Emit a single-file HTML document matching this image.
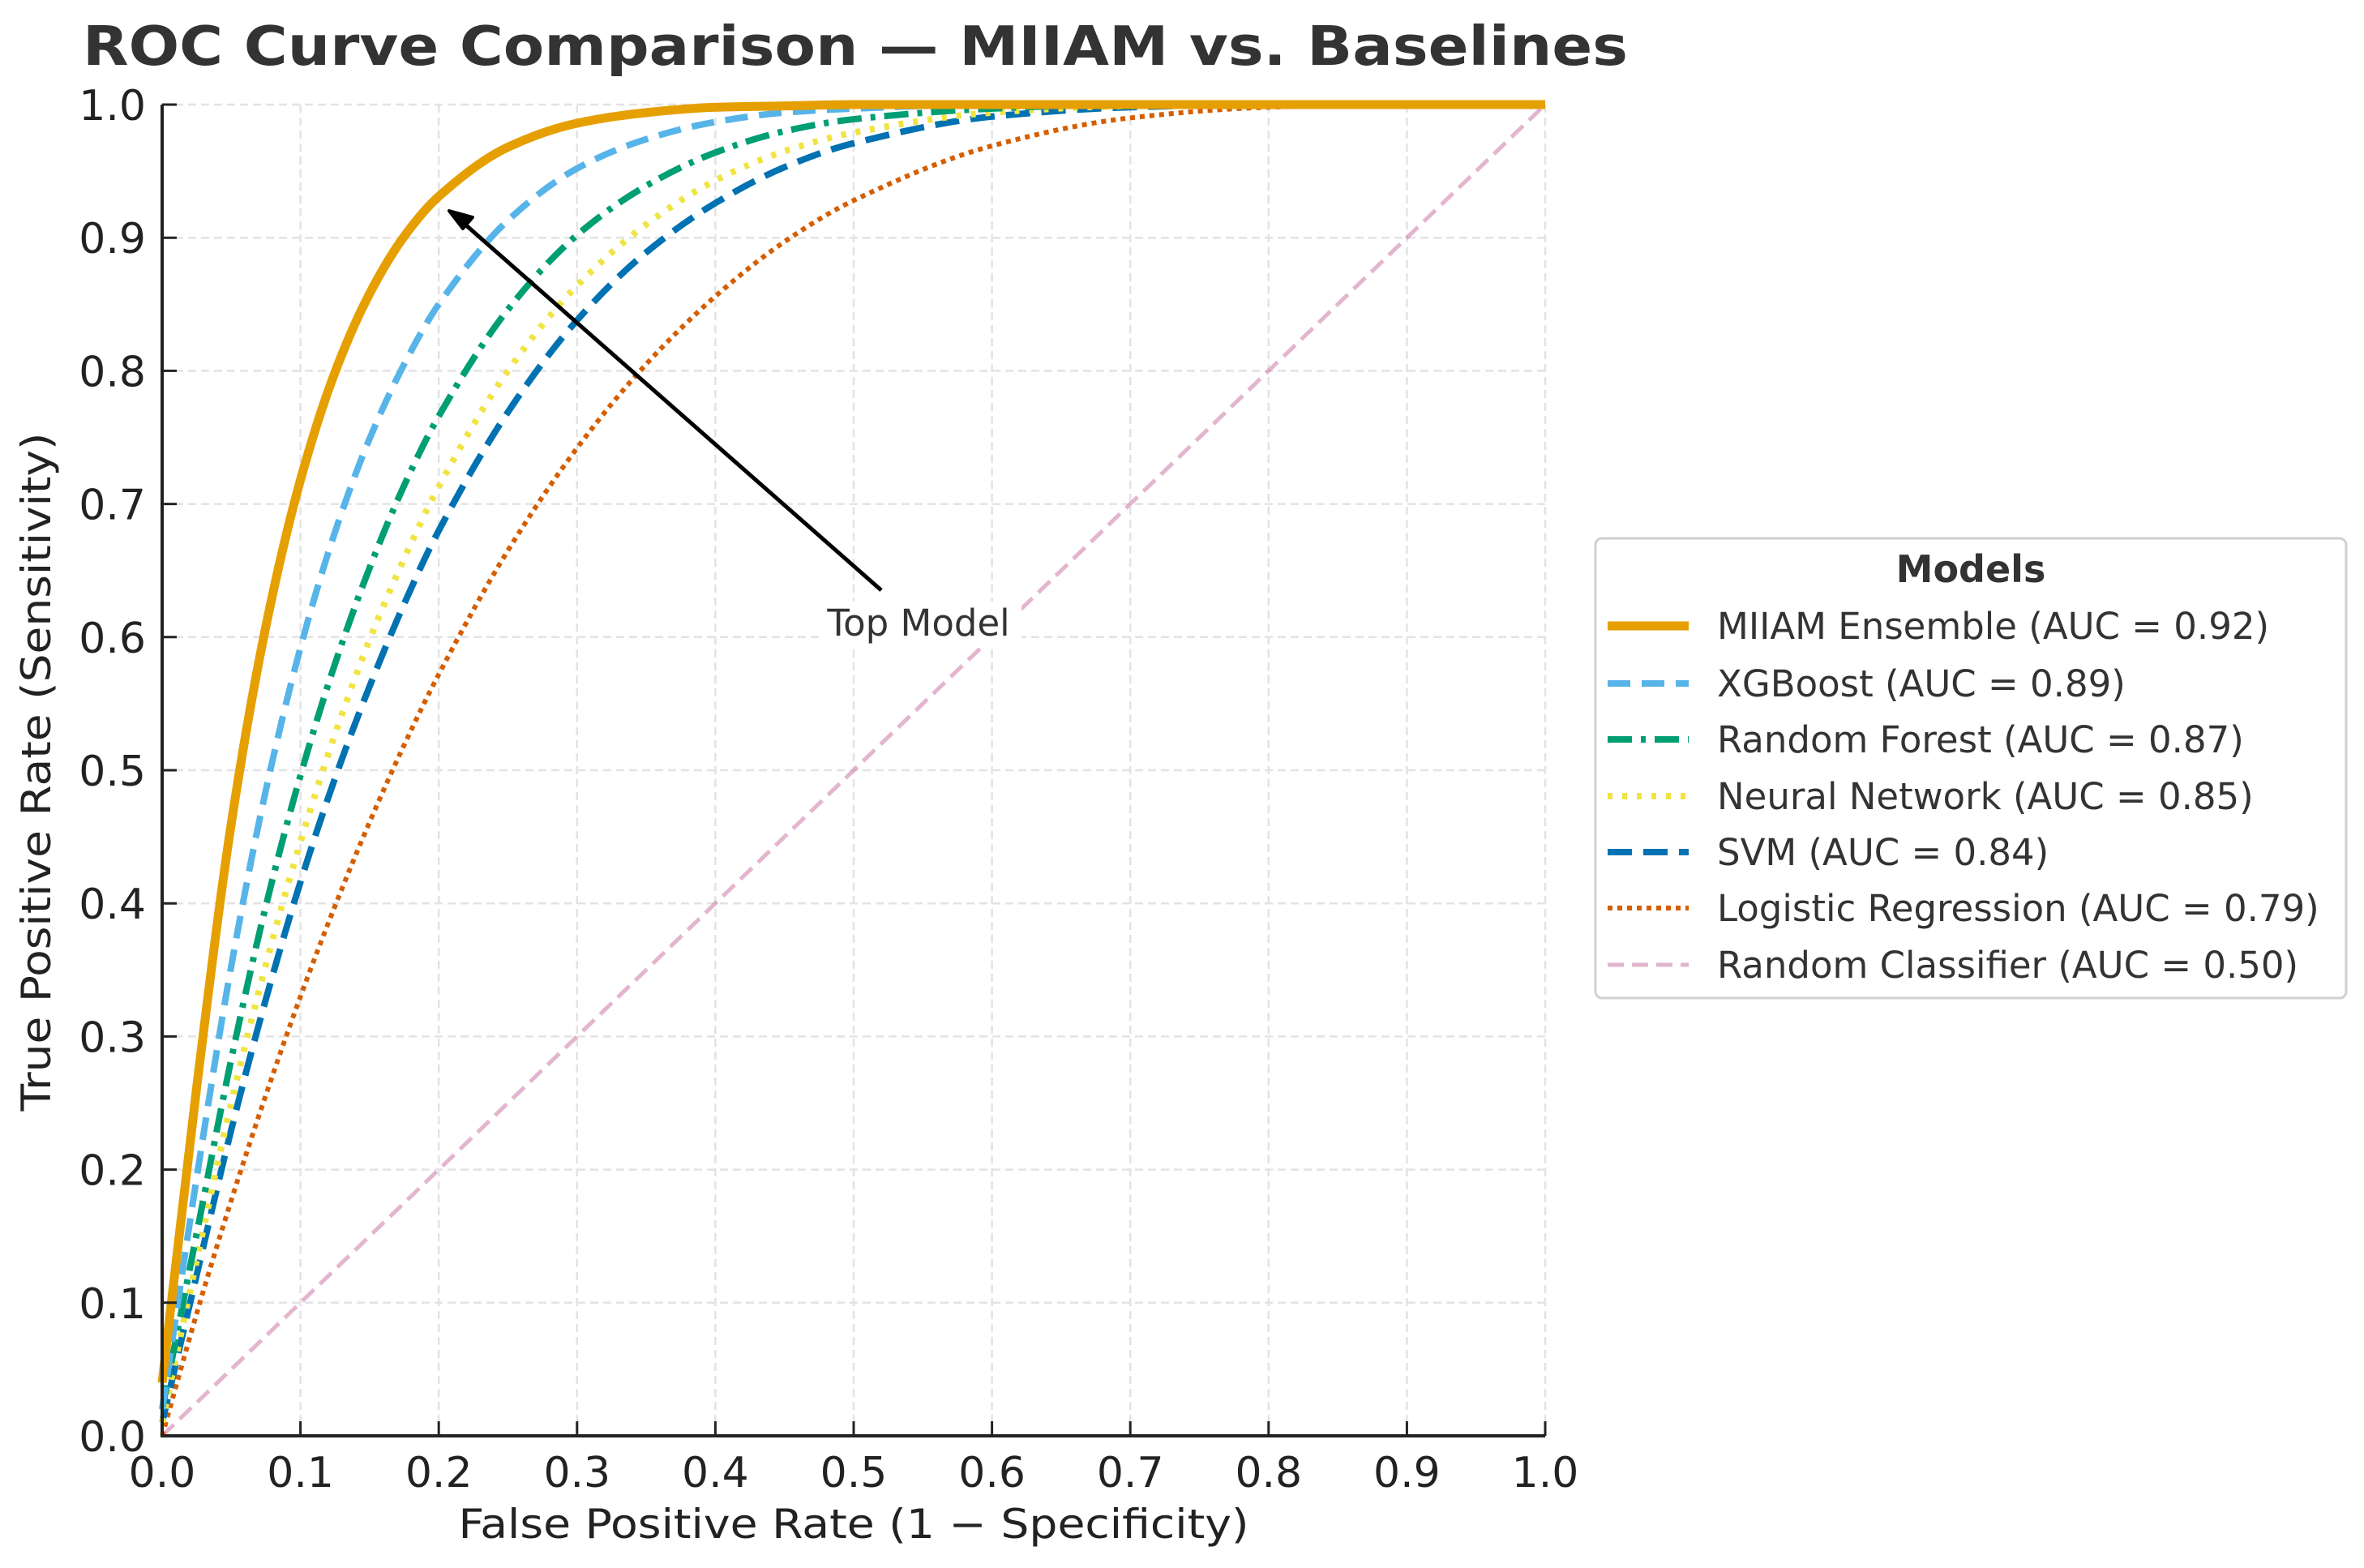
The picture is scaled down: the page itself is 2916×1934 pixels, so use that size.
<!DOCTYPE html>
<html><head><meta charset="utf-8"><style>
html,body{margin:0;padding:0;background:#fff;}
svg{display:block;font-family:"DejaVu Sans","Liberation Sans",sans-serif;}
</style></head><body>
<svg id="chart" width="2916" height="1934" viewBox="0 0 2916 1934">
<rect width="2916" height="1934" fill="#fff"/>
<text x="102" y="80" font-size="67" font-weight="bold" fill="#333" textLength="1906" lengthAdjust="spacingAndGlyphs">ROC Curve Comparison — MIIAM vs. Baselines</text>
<g id="grid"></g>
<g id="curves"></g>
<g id="axes"></g>
<g>
<rect x="1010" y="742" width="250" height="56" fill="#fff"/>
<line x1="1087" y1="728" x2="566" y2="270" stroke="#000" stroke-width="5"/>
<path d="M554 260 L583 268 L571 282 Z" fill="#000" stroke="#000" stroke-width="4" stroke-linejoin="round"/>
<text x="1133" y="784" font-size="45" fill="#333" text-anchor="middle">Top Model</text>
</g>
<text x="1053" y="1897" font-size="50" fill="#222" text-anchor="middle" textLength="975" lengthAdjust="spacingAndGlyphs">False Positive Rate (1 − Specificity)</text>
<text transform="translate(62,952) rotate(-90)" font-size="50" fill="#222" text-anchor="middle" textLength="837" lengthAdjust="spacingAndGlyphs">True Positive Rate (Sensitivity)</text>
<g id="legend">
<rect x="1968" y="664" width="926" height="567" rx="8" fill="#fff" stroke="#d0d0d0" stroke-width="3"/>
<text x="2431" y="718" font-size="46" font-weight="bold" fill="#333" text-anchor="middle">Models</text>
</g>
</svg>
<script>
const fpr = [0,0.025,0.05,0.075,0.1,0.125,0.15,0.175,0.2,0.25,0.3,0.35,0.4,0.45,0.5,0.6,0.7,0.8,0.9,1.0];
const miiam = [0.04,0.262,0.46,0.608,0.718,0.799,0.858,0.901,0.931,0.968,0.986,0.994,0.998,0.999,1,1,1,1,1,1];
const xgboost = [0.02,0.194,0.353,0.485,0.592,0.679,0.749,0.805,0.850,0.913,0.952,0.974,0.987,0.994,0.997,1,1,1,1,1];
const randomForest = [0.02,0.152,0.283,0.398,0.496,0.580,0.652,0.714,0.766,0.846,0.902,0.939,0.964,0.980,0.989,0.997,1,1,1,1];
const neuralNet = [0.01,0.132,0.25,0.354,0.446,0.527,0.598,0.659,0.713,0.800,0.864,0.910,0.943,0.965,0.979,0.994,0.999,1,1,1];
const svm = [0.01,0.121,0.23,0.328,0.416,0.494,0.563,0.625,0.680,0.769,0.838,0.889,0.926,0.953,0.971,0.991,0.998,1,1,1];
const logReg = [0,0.092,0.177,0.256,0.330,0.398,0.461,0.519,0.572,0.665,0.742,0.805,0.856,0.897,0.928,0.969,0.990,0.998,1,1];
const diagX = [0,1];
const diagY = [0,1];
const modelNames = ["MIIAM Ensemble (AUC = 0.92)","XGBoost (AUC = 0.89)","Random Forest (AUC = 0.87)","Neural Network (AUC = 0.85)","SVM (AUC = 0.84)","Logistic Regression (AUC = 0.79)","Random Classifier (AUC = 0.50)"];
const tickLabels = ["0.0","0.1","0.2","0.3","0.4","0.5","0.6","0.7","0.8","0.9","1.0"];
const tickValues = [0,0.1,0.2,0.3,0.4,0.5,0.6,0.7,0.8,0.9,1.0];

const L=200,R=1906,T=129,B=1771;
const sx=v=>L+v*(R-L), sy=v=>B-v*(B-T);
const NS="http://www.w3.org/2000/svg";
function mk(tag,attrs,parent){const e=document.createElementNS(NS,tag);for(const k in attrs)e.setAttribute(k,attrs[k]);parent.appendChild(e);return e;}
const grid=document.getElementById('grid'),axes=document.getElementById('axes'),curves=document.getElementById('curves'),legend=document.getElementById('legend');

tickValues.forEach((v,i)=>{
  const gv=mk('line',{x1:sx(v),x2:sx(v),y1:T,y2:B,stroke:'#e3e3e3','stroke-width':2.5,'stroke-dasharray':'10 6'},grid);
  
  
  const gh=mk('line',{x1:L,x2:R,y1:sy(v),y2:sy(v),stroke:'#e3e3e3','stroke-width':2.5,'stroke-dasharray':'10 6'},grid);
  
  
  const tx=mk('line',{x1:sx(v),x2:sx(v),y1:B,y2:B-18,stroke:'#222','stroke-width':3},axes);
  
  
  const ty=mk('line',{x1:L,x2:L+18,y1:sy(v),y2:sy(v),stroke:'#222','stroke-width':3},axes);
  
  
  const lx=mk('text',{x:sx(v),y:1834,'font-size':52,fill:'#222','text-anchor':'middle'},axes);
  lx.textContent=tickLabels[i];
  
  
  const ly=mk('text',{x:180,y:sy(v)+19,'font-size':52,fill:'#222','text-anchor':'end'},axes);
  ly.textContent=tickLabels[i];
  
  
});
const ax1=mk('line',{x1:L,x2:L,y1:T,y2:B+2,stroke:'#222','stroke-width':4},axes);


const ax2=mk('line',{x1:L-2,x2:R,y1:B,y2:B,stroke:'#222','stroke-width':4},axes);



function smoothPath(xs,ys){
  const p=xs.map((x,i)=>[sx(x),sy(ys[i])]);
  const n=p.length;
  if(n<3)return 'M'+p.map(q=>q.join(' ')).join(' L');
  // monotone cubic (Fritsch-Carlson)
  const dx=[],m=[],t=[];
  for(let i=0;i<n-1;i++){dx[i]=p[i+1][0]-p[i][0];m[i]=(p[i+1][1]-p[i][1])/dx[i];}
  t[0]=m[0];t[n-1]=m[n-2];
  for(let i=1;i<n-1;i++){t[i]=(m[i-1]*m[i]<=0)?0:2/(1/m[i-1]+1/m[i]);}
  let d='M'+p[0][0]+' '+p[0][1];
  for(let i=0;i<n-1;i++){
    const h=dx[i]/3;
    d+=` C${p[i][0]+h} ${p[i][1]+t[i]*h} ${p[i+1][0]-h} ${p[i+1][1]-t[i+1]*h} ${p[i+1][0]} ${p[i+1][1]}`;
  }
  return d;
}
const styles=[
 {c:'#E69F00',w:11,d:'',op:1},
 {c:'#56B4E9',w:8,d:'28 14',op:1},
 {c:'#009E73',w:8,d:'30 11 6 11',op:1},
 {c:'#F0E442',w:8,d:'6 12',op:1},
 {c:'#0072B2',w:8,d:'30 14',op:1},
 {c:'#D55E00',w:6,d:'6 6',op:1},
 {c:'#CC79A7',w:5,d:'20 10',op:0.55}
];
const series=[miiam,xgboost,randomForest,neuralNet,svm,logReg];
const seriesNames=['miiam-curve','xgboost-curve','random-forest-curve','neural-network-curve','svm-curve','logistic-regression-curve'];
const diag=mk('path',{d:smoothPath(diagX,diagY),fill:'none',stroke:styles[6].c,'stroke-width':styles[6].w,'stroke-dasharray':styles[6].d,opacity:styles[6].op},curves);


for(let i=series.length-1;i>=0;i--){
  const s=styles[i];
  const el=mk('path',{d:smoothPath(fpr,series[i]),fill:'none',stroke:s.c,'stroke-width':s.w,'stroke-dasharray':s.d,opacity:s.op},curves);
  
  
}
const legY=[772,843,912,982,1051,1120,1190];
modelNames.forEach((n,i)=>{
  const s=styles[i];
  const h=mk('line',{x1:1983,x2:2083,y1:legY[i],y2:legY[i],stroke:s.c,'stroke-width':s.w,'stroke-dasharray':s.d,opacity:s.op},legend);
  
  
  const t=mk('text',{x:2118,y:legY[i]+16,'font-size':45,fill:'#333'},legend);
  t.textContent=n;
  
  
});
</script>
</body></html>
